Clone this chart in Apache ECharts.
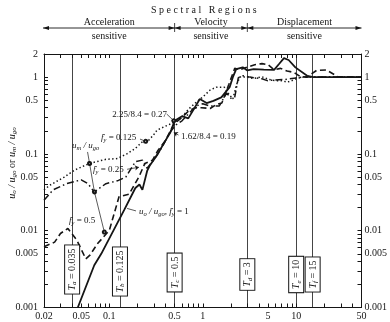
<!DOCTYPE html>
<html><head><meta charset="utf-8">
<script src="https://cdn.jsdelivr.net/npm/echarts@6/dist/echarts.min.js"></script>
<style>html,body{margin:0;padding:0;background:#fff}#c{width:390px;height:322px}</style>
</head><body><div id="c"></div>
<script>
// ---- axis ticks / labels ----
const xLabelValues = [0.02, 0.05, 0.1, 0.5, 1, 5, 10, 50];
const xTickValues = [0.02,0.03,0.04,0.05,0.06,0.07,0.08,0.09,0.1,0.2,0.3,0.4,0.5,0.6,0.7,0.8,0.9,1,2,3,4,5,6,7,8,9,10,20,30,40,50];
const yLabelValues = [0.001, 0.005, 0.01, 0.05, 0.1, 0.5, 1, 2];
const yTickValues = [0.001,0.002,0.003,0.004,0.005,0.006,0.007,0.008,0.009,0.01,0.02,0.03,0.04,0.05,0.06,0.07,0.08,0.09,0.1,0.2,0.3,0.4,0.5,0.6,0.7,0.8,0.9,1,2];

// ---- u_o/u_go, f_y = 1 (solid) ----
const periodsF1 = [0.046,0.069,0.082,0.144,0.19,0.21,0.226,0.254,0.27,0.324,0.40,0.45,0.5,0.6,0.7,0.8,0.93,1.1,1.3,1.58,1.94,2.1,2.28,2.68,3.0,3.5,4.5,5.8,6.55,7.4,8.3,9.8,13.1,15.3,50];
const valuesF1  = [0.001,0.00355,0.005,0.0185,0.036,0.040,0.034,0.060,0.070,0.096,0.15,0.19,0.27,0.31,0.29,0.38,0.52,0.46,0.49,0.545,0.74,1.0,1.27,1.34,1.22,1.27,1.25,1.24,1.48,1.77,1.67,1.34,1.04,1.0,1.0];
// ---- f_y = 0.5 (dashed) ----
const periodsF05 = [0.02,0.026,0.03,0.036,0.045,0.056,0.062,0.075,0.1,0.127,0.163,0.207,0.24,0.29,0.33,0.4,0.45,0.5,0.6,0.72,0.85,0.97,1.2,1.4,1.6,1.9,2.2,2.5,3.0,3.6,4.3,5.0,5.8,6.8,8.0,9.5,11,13,16.5,21,28,50];
const valuesF05  = [0.0062,0.0071,0.0092,0.0107,0.0075,0.0043,0.0048,0.0068,0.0101,0.0276,0.030,0.050,0.075,0.083,0.11,0.15,0.2,0.25,0.30,0.37,0.40,0.40,0.39,0.44,0.46,0.8,1.3,1.25,1.35,1.45,1.5,1.45,1.25,1.3,1.2,1.15,1.02,1.0,1.22,1.24,1.01,1.0];
// ---- f_y = 0.25 (dash-dot) ----
const periodsF025 = [0.02,0.025,0.035,0.05,0.059,0.069,0.092,0.122,0.15,0.19,0.226,0.254,0.297,0.36,0.45,0.52,0.6,0.7,0.85,1.0,1.2,1.5,1.8,2.0,2.2,2.4,2.7,3.2,4.3,4.9,6,7.5,9.5,12,50];
const valuesF025  = [0.025,0.034,0.041,0.046,0.041,0.032,0.041,0.0446,0.05,0.079,0.083,0.065,0.083,0.118,0.194,0.24,0.27,0.33,0.42,0.45,0.42,0.42,0.62,0.53,0.55,0.98,1.04,1.0,0.95,0.9,0.92,0.93,0.97,1.0,1.0];
// ---- f_y = 0.125 (dotted) ----
const periodsF0125 = [0.02,0.023,0.033,0.0425,0.061,0.092,0.122,0.156,0.19,0.226,0.264,0.297,0.324,0.4,0.5,0.6,0.7,0.85,1.0,1.2,1.4,1.7,1.9,2.1,2.3,2.5,3,3.5,4.3,5,6,7,8,9,10.3,12,50];
const valuesF0125  = [0.034,0.039,0.050,0.0615,0.075,0.085,0.087,0.101,0.118,0.144,0.151,0.176,0.204,0.23,0.26,0.30,0.38,0.47,0.55,0.68,0.74,0.74,0.60,0.52,0.80,1.0,1.0,0.96,1.01,0.94,0.90,0.90,0.86,0.90,0.97,1.0,1.0];

// ---- characteristic periods ----
const cornerNames = ['a','b','c','d','e','f'];
const cornerPeriods = [0.035, 0.125, 0.5, 3, 10, 15];
const cornerLabelText = ['0.035','0.125','0.5','3','10','15'];

const SERIF = 'Liberation Serif';
const INK = '#151515';
const pairs = (xs, ys) => xs.map((x, i) => [x, ys[i]]);
const fmt = v => String(+(+v).toPrecision(6));

const rich = {
  i: {fontFamily: SERIF, fontStyle: 'italic', fontSize: 10, color: INK},
  s: {fontFamily: SERIF, fontStyle: 'italic', fontSize: 7, color: INK, padding: [4, 0, 0, 0]},
  n: {fontFamily: SERIF, fontSize: 10, color: INK}
};
const richSmall = {
  i: {fontFamily: SERIF, fontStyle: 'italic', fontSize: 9, color: INK},
  s: {fontFamily: SERIF, fontStyle: 'italic', fontSize: 6.5, color: INK, padding: [4, 0, 0, 0]},
  n: {fontFamily: SERIF, fontSize: 9, color: INK}
};

const cornerDistance = [38, 36, 35, 33, 33, 33];
const cornerLines = cornerPeriods.map((p, k) => ({
  xAxis: p,
  label: {
    show: true,
    position: 'insideStartTop',
    distance: [cornerDistance[k], 0],
    align: 'center',
    verticalAlign: 'middle',
    formatter: '{i|T}{s|' + cornerNames[k] + '}{n| = ' + cornerLabelText[k] + '}',
    rich: rich,
    backgroundColor: '#fff',
    borderColor: INK,
    borderWidth: 1,
    padding: [2, 3, 1, 3]
  }
}));

const leaderStyle = {color: INK, width: 0.7, type: 'solid'};
const leaders = [
  [{coord: [0.411, 0.331], symbol: 'none'}, {coord: [0.49, 0.27], symbol: 'emptyCircle', symbolSize: 3}],
  [{coord: [0.55, 0.176], symbol: 'none'}, {coord: [0.49, 0.19], symbol: 'arrow', symbolSize: 4}],
  [{coord: [0.213, 0.156], symbol: 'none'}, {coord: [0.245, 0.146], symbol: 'emptyCircle', symbolSize: 3}],
  [{coord: [0.0585, 0.106], symbol: 'none'}, {coord: [0.0615, 0.075], symbol: 'emptyCircle', symbolSize: 3}],
  [{coord: [0.0615, 0.075], symbol: 'none'}, {coord: [0.0693, 0.032], symbol: 'emptyCircle', symbolSize: 3}],
  [{coord: [0.0693, 0.032], symbol: 'none'}, {coord: [0.0885, 0.0096], symbol: 'emptyCircle', symbolSize: 3}],
  [{coord: [0.155, 0.0631], symbol: 'none'}, {coord: [0.2075, 0.067], symbol: 'arrow', symbolSize: 4}],
  [{coord: [0.193, 0.0181], symbol: 'none'}, {coord: [0.155, 0.0195], symbol: 'none'}]
];

const axisCommon = {
  axisLine: {show: true, lineStyle: {color: INK, width: 1}},
  splitLine: {show: false},
  minorTick: {show: false}
};
function xAx(pos, showLabel) {
  return Object.assign({}, axisCommon, {
    type: 'log', logBase: 10, min: 0.02, max: 50, position: pos,
    axisTick: {show: true, inside: true, length: 4, customValues: xTickValues, lineStyle: {color: INK, width: 1}},
    axisLabel: {show: showLabel, customValues: xLabelValues, formatter: fmt, margin: 4,
      fontFamily: SERIF, fontSize: 10, color: INK}
  });
}
function yAx(pos) {
  return Object.assign({}, axisCommon, {
    type: 'log', logBase: 10, min: 0.001, max: 2, position: pos,
    axisTick: {show: true, inside: true, length: 4, customValues: yTickValues, lineStyle: {color: INK, width: 1}},
    axisLabel: {show: true, customValues: yLabelValues, formatter: fmt, margin: pos === 'left' ? 6 : 3,
      fontFamily: SERIF, fontSize: 10, color: INK}
  });
}

const lineSeries = (name, xs, ys, type, width) => ({
  name: name, type: 'line', xAxisIndex: 0, yAxisIndex: 0,
  data: pairs(xs, ys), symbol: 'none', smooth: false, silent: true,
  lineStyle: {color: INK, width: width, type: type}
});

const sSolid = lineSeries('fy=1', periodsF1, valuesF1, 'solid', 1.8);
sSolid.markLine = {silent: true, symbol: ['none', 'none'], animation: false,
  lineStyle: {color: INK, width: 0.8, type: 'solid'}, data: cornerLines};
const sDot = lineSeries('fy=0.125', periodsF0125, valuesF0125, [1.4, 2.4], 1.5);
sDot.markLine = {silent: true, animation: false, lineStyle: leaderStyle, label: {show: false}, data: leaders};

const option = {
  animation: false,
  backgroundColor: '#fff',
  grid: {left: 44, right: 25, top: 54, bottom: 14.5},
  xAxis: [xAx('bottom', true), xAx('top', false)],
  yAxis: [yAx('left'), yAx('right')],
  series: [
    sSolid,
    lineSeries('fy=0.5', periodsF05, valuesF05, [6, 3.5], 1.6),
    lineSeries('fy=0.25', periodsF025, valuesF025, [7, 3, 1.5, 3], 1.5),
    sDot
  ]
};

const chart = echarts.init(document.getElementById('c'), null, {renderer: 'canvas'});
chart.setOption(option);

const px = v => chart.convertToPixel({xAxisIndex: 0}, v);
const xL = px(0.02), xR = px(50), xV = px(cornerPeriods[2]), xD = px(cornerPeriods[3]);
const ay = 28;
function head(x, dir) {
  return {type: 'polygon', shape: {points: [[x, ay], [x - dir * 6, ay - 2], [x - dir * 6, ay + 2]]}, style: {fill: INK}};
}
function txt(x, y, t, align, r, extra) {
  return Object.assign({type: 'text', x: x, y: y, style: {text: t, rich: r || rich, align: align || 'center', verticalAlign: 'middle',
    fontFamily: SERIF, fontSize: 10, fill: INK}}, extra || {});
}
const graphics = [
  txt((xL + xR) / 2 + 1, 10, '{n|S p e c t r a l   R e g i o n s}'),
  {type: 'line', shape: {x1: xL - 1, y1: ay, x2: xR, y2: ay}, style: {stroke: INK, lineWidth: 0.9}},
  {type: 'line', shape: {x1: xV, y1: ay - 5, x2: xV, y2: ay + 4}, style: {stroke: INK, lineWidth: 0.8}},
  {type: 'line', shape: {x1: xD, y1: ay - 5, x2: xD, y2: ay + 4}, style: {stroke: INK, lineWidth: 0.8}},
  head(xL - 1, -1), head(xR, 1), head(xV, 1), head(xV, -1), head(xD, 1), head(xD, -1),
  txt((xL + xV) / 2, 22, '{n|Acceleration}'), txt((xL + xV) / 2, 36, '{n|sensitive}'),
  txt((xV + xD) / 2, 22, '{n|Velocity}'), txt((xV + xD) / 2, 36, '{n|sensitive}'),
  txt((xD + xR) / 2, 22, '{n|Displacement}'), txt((xD + xR) / 2, 36, '{n|sensitive}'),
  txt(12, 163, '{i|u}{s|o}{i| / u}{s|go}{n| or }{i|u}{s|m}{i| / u}{s|go}', 'center', rich, {rotation: Math.PI / 2}),
  txt(167, 115, '{n|2.25/8.4 = 0.27}', 'right', richSmall),
  txt(181, 137, '{n|1.62/8.4 = 0.19}', 'left', richSmall),
  txt(101, 138, '{i|f\u0304}{s|y}{n| = 0.125}', 'left', richSmall),
  txt(72, 146, '{i|u}{s|m}{i| / u}{s|go}', 'left', richSmall),
  txt(93, 170, '{i|f\u0304}{s|y}{n| = 0.25}', 'left', richSmall),
  txt(69, 221, '{i|f\u0304}{s|y}{n| = 0.5}', 'left', richSmall),
  txt(139, 212, '{i|u}{s|o}{i| / u}{s|go}{n|, }{i|f\u0304}{s|y}{n| = 1}', 'left', richSmall)
];
chart.setOption({graphic: graphics});
</script>
</body></html>
